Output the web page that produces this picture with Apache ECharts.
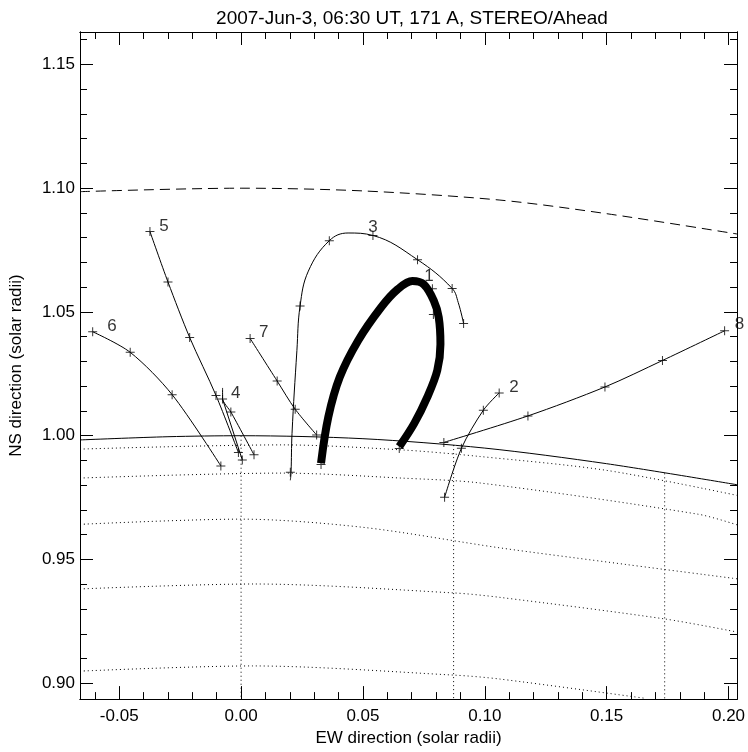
<!DOCTYPE html>
<html>
<head>
<meta charset="utf-8">
<script src="https://cdn.jsdelivr.net/npm/echarts@6/dist/echarts.min.js"></script>
<style>
html, body { margin: 0; padding: 0; background: #fff; }
#chart { width: 748px; height: 752px; }
</style>
</head>
<body>
<div id="chart"></div>
<script>
// axis ticks
var xTicks = [-0.05, 0.00, 0.05, 0.10, 0.15, 0.20];
var xMinor = [-0.06, -0.04, -0.03, -0.02, -0.01, 0.01, 0.02, 0.03, 0.04, 0.06, 0.07, 0.08, 0.09,
	0.11, 0.12, 0.13, 0.14, 0.16, 0.17, 0.18, 0.19];
var yTicks = [0.90, 0.95, 1.00, 1.05, 1.10, 1.15];
var yMinor = [0.91, 0.92, 0.93, 0.94, 0.96, 0.97, 0.98, 0.99, 1.01, 1.02, 1.03, 1.04,
	1.06, 1.07, 1.08, 1.09, 1.11, 1.12, 1.13, 1.14, 1.16];

// solar limb and 1.1 Rsun circle
var limb = [[-0.0661, 0.9983], [-0.03, 0.9996], [0, 1.0], [0.05, 0.9988], [0.10, 0.9950], [0.15, 0.9887], [0.2035, 0.9802]];
var outer = [[-0.0661, 1.0986], [0, 1.1000], [0.05, 1.0989], [0.1062, 1.0952], [0.15, 1.0897], [0.2035, 1.0815]];

// heliographic grid (dotted)
var lat1 = [[-0.0661, 0.9946], [0.0168, 0.9963], [0.0656, 0.9943], [0.0981, 0.9916], [0.15, 0.9860], [0.2035, 0.9759]];
var lat2 = [[-0.0661, 0.9829], [0.0168, 0.9849], [0.0656, 0.9829], [0.0981, 0.9809], [0.1875, 0.9683], [0.2035, 0.9640]];
var lat3 = [[-0.0661, 0.9642], [0, 0.9663], [0.05, 0.9630], [0.1062, 0.9547], [0.15, 0.9490], [0.2035, 0.9422]];
var lat4 = [[-0.0661, 0.9381], [0.0053, 0.9401], [0.0872, 0.9365], [0.1062, 0.9347], [0.1737, 0.9260], [0.2035, 0.9207]];
var lat5 = [[-0.0661, 0.9049], [0.0046, 0.9070], [0.0872, 0.9033], [0.1062, 0.9017], [0.1659, 0.8939]];
var lon0 = [[0, 1.0], [0, 0.8936]];
var lon1 = [[0.0872, 0.9962], [0.0872, 0.8936]];
var lon2 = [[0.1738, 0.9848], [0.1738, 0.8936]];

// traced loops
var loop1 = [[0.0328, 0.9889], [0.0358, 1.0076], [0.0405, 1.0237], [0.0480, 1.0384], [0.0574, 1.0518],
	[0.0642, 1.0591], [0.0703, 1.0625], [0.0750, 1.0611], [0.0791, 1.0545], [0.0811, 1.0478],
	[0.0818, 1.0370], [0.0805, 1.0264], [0.0764, 1.0156], [0.0710, 1.0049], [0.0649, 0.9956]];
var loop1Marks = [[0.0328, 0.9884], [0.0785, 1.0594], [0.0789, 1.0490], [0.0649, 0.9948]];

var loop2 = [[0.0835, 0.9751], [0.0904, 0.9949], [0.0994, 1.0103], [0.1059, 1.0173]];

var loop3 = [[0.0202, 0.9820], [0.0205, 0.9852], [0.0209, 1.0009], [0.0229, 1.0344], [0.0242, 1.0524],
	[0.0276, 1.0665], [0.0362, 1.0788], [0.0439, 1.0819], [0.0541, 1.0809], [0.0724, 1.0711],
	[0.0866, 1.0595], [0.0891, 1.0538], [0.0913, 1.0453]];
var loop3Marks = [[0.0202, 0.9852], [0.0242, 1.0524], [0.0362, 1.0788], [0.0541, 1.0809],
	[0.0724, 1.0711], [0.0866, 1.0595], [0.0913, 1.0453]];

var loop4 = [[-0.0076, 1.0193], [-0.0076, 1.0148], [-0.0042, 1.0096], [0.0053, 0.9923]];
var loop4b = [[-0.0076, 1.0148], [0.0005, 0.9902]];
var loop4Marks = [[-0.0076, 1.0148], [-0.0042, 1.0096], [0.0053, 0.9923], [0.0005, 0.9902]];

var loop5 = [[-0.0374, 1.0825], [-0.0300, 1.0621], [-0.0211, 1.0397], [-0.0103, 1.0163], [-0.0011, 0.9932]];
var loop6 = [[-0.0609, 1.0420], [-0.0455, 1.0337], [-0.0283, 1.0166], [-0.0083, 0.9878]];
var loop7 = [[0.0037, 1.0393], [0.0148, 1.0221], [0.0222, 1.0107], [0.0310, 1.0003]];
var loop8 = [[0.0832, 0.9973], [0.1177, 1.0080], [0.1493, 1.0197], [0.1729, 1.0304], [0.1984, 1.0424]];

var loopNames = ['1', '2', '3', '4', '5', '6', '7', '8'];
var namePos = [[0.0771, 1.0645], [0.1120, 1.0197], [0.0541, 1.0841], [-0.0022, 1.0173],
	[-0.0316, 1.0846], [-0.0530, 1.0440], [0.0093, 1.0417], [0.2045, 1.0451]];

var FONT = 'Liberation Sans';
var plus = 'path://M-4.5,-0.5H4.5V0.5H-4.5Z M-0.5,-4.5H0.5V4.5H-0.5Z';

function curve(data, width, type, smooth, z) {
	return {
		type: 'line', data: data, showSymbol: false, smooth: smooth, silent: true,
		lineStyle: { color: '#000', width: width, type: type, cap: 'butt' },
		z: z || 2
	};
}
function marks(data) {
	return {
		type: 'scatter', data: data, symbol: plus, symbolSize: 9, silent: true,
		itemStyle: { color: '#000' }, z: 4
	};
}
function axisX(pos, ticks, len, labels) {
	return {
		type: 'value', position: pos, min: -0.0661, max: 0.2035,
		axisLine: { show: true, onZero: false, lineStyle: { color: '#000', width: 1 } },
		axisTick: { show: true, inside: true, length: len, customValues: ticks, lineStyle: { color: '#000' } },
		axisLabel: labels ? { show: true, customValues: ticks, margin: 9, fontFamily: FONT, fontSize: 17, color: '#000',
			formatter: function (v) { return v.toFixed(2); } } : { show: false },
		splitLine: { show: false },
		name: labels ? 'EW direction (solar radii)' : '', nameLocation: 'middle', nameGap: 28,
		nameTextStyle: { fontFamily: FONT, fontSize: 17, color: '#000' }
	};
}
function axisY(pos, ticks, len, labels) {
	return {
		type: 'value', position: pos, min: 0.8936, max: 1.1631,
		axisLine: { show: true, onZero: false, lineStyle: { color: '#000', width: 1 } },
		axisTick: { show: true, inside: true, length: len, customValues: ticks, lineStyle: { color: '#000' } },
		axisLabel: labels ? { show: true, customValues: ticks, margin: 5, fontFamily: FONT, fontSize: 17, color: '#000',
			formatter: function (v) { return v.toFixed(2); } } : { show: false },
		splitLine: { show: false },
		name: labels ? 'NS direction (solar radii)' : '', nameLocation: 'middle', nameGap: 55,
		nameTextStyle: { fontFamily: FONT, fontSize: 17, color: '#000' }
	};
}

var dotted = [1, 3];
var series = [
	curve(lat1, 1, dotted, 0.3, 1), curve(lat2, 1, dotted, 0.3, 1), curve(lat3, 1, dotted, 0.3, 1),
	curve(lat4, 1, dotted, 0.3, 1), curve(lat5, 1, dotted, 0.3, 1),
	curve(lon0, 1, dotted, 0, 1), curve(lon1, 1, dotted, 0, 1), curve(lon2, 1, dotted, 0, 1),
	curve(limb, 1, 'solid', 0.3), curve(outer, 1, [10, 6], 0.3),
	curve(loop2, 1, 'solid', 0.3), curve(loop3, 1, 'solid', 0.4), curve(loop4, 1, 'solid', 0.2),
	curve(loop4b, 1, 'solid', 0), curve(loop5, 1, 'solid', 0.3), curve(loop6, 1, 'solid', 0.3),
	curve(loop7, 1, 'solid', 0.3), curve(loop8, 1, 'solid', 0.3),
	marks(loop1Marks), marks(loop2), marks(loop3Marks), marks(loop4Marks), marks(loop5),
	marks(loop6), marks(loop7), marks(loop8),
	curve(loop1, 8, 'solid', 0.35, 5),
	{
		type: 'scatter', symbolSize: 0, silent: true, clip: false, z: 6,
		data: loopNames.map(function (n, i) { return { name: n, value: namePos[i] }; }),
		label: { show: true, position: 'inside', formatter: '{b}', fontFamily: FONT, fontSize: 17, color: '#000' }
	}
];

var chart = echarts.init(document.getElementById('chart'));
chart.setOption({
	animation: false,
	backgroundColor: '#fff',
	title: {
		text: '2007-Jun-3, 06:30 UT, 171 A, STEREO/Ahead', left: 407, top: 4, textAlign: 'center',
		textStyle: { fontFamily: FONT, fontSize: 19, fontWeight: 'normal', color: '#000' }
	},
	grid: { left: 76, right: 9, top: 32, bottom: 49, containLabel: false },
	xAxis: [axisX('bottom', xTicks, 13, true), axisX('bottom', xMinor, 7, false),
		axisX('top', xTicks, 13, false), axisX('top', xMinor, 7, false)],
	yAxis: [axisY('left', yTicks, 13, true), axisY('left', yMinor, 7, false),
		axisY('right', yTicks, 13, false), axisY('right', yMinor, 7, false)],
	series: series
});
</script>
</body>
</html>
